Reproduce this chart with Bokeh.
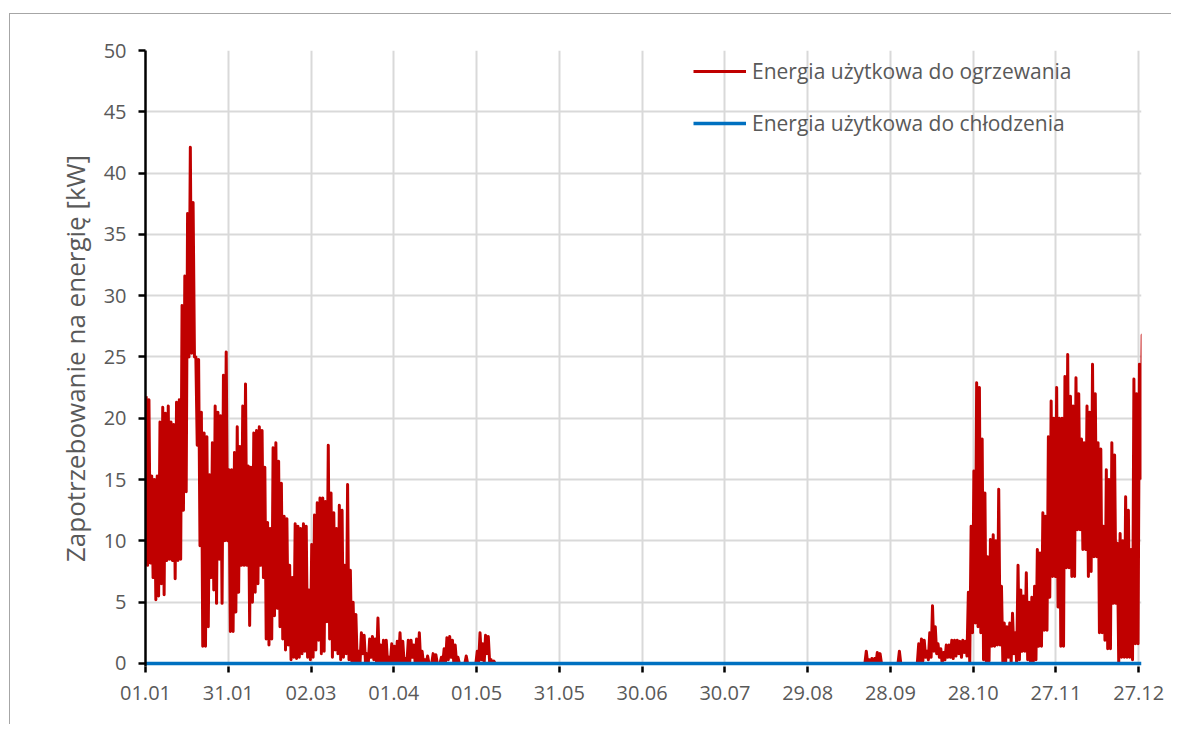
from bokeh.plotting import figure
from bokeh.models import Range1d, FixedTicker, Legend, LegendItem, ColumnDataSource
from bokeh.embed import file_html
from bokeh.resources import INLINE

# ---- data -----------------------------------------------------------------
tick_days = [0, 30, 60, 90, 120, 150, 180, 210, 240, 270, 300, 330, 360]
tick_labels = ["01.01", "31.01", "02.03", "01.04", "01.05", "31.05", "30.06",
               "30.07", "29.08", "28.09", "28.10", "27.11", "27.12"]

# heating demand, daily max / min [kW], spring season (days 0..127)
spring_first_day = 0
spring_max = [21.8, 21.5, 15.3, 15.0, 15.3, 19.7, 20.9, 20.4, 21.0, 19.7,
              19.5, 21.3, 21.5, 29.2, 31.6, 36.7, 42.1, 37.6, 25.0, 24.8,
              20.5, 18.8, 18.5, 15.4, 18.0, 21.0, 20.5, 20.2, 23.5, 25.4,
              15.8, 15.8, 17.2, 19.3, 17.7, 21.0, 22.8, 16.1, 16.0, 18.8,
              19.0, 19.3, 19.0, 16.0, 11.5, 11.0, 17.6, 18.0, 16.5, 14.7,
              12.0, 11.8, 8.0, 7.0, 11.4, 11.2, 11.0, 11.4, 11.2, 6.0,
              9.7, 12.1, 13.1, 13.5, 13.5, 13.2, 17.8, 13.9, 12.3, 11.0,
              12.9, 12.5, 8.0, 14.6, 7.6, 5.0, 4.0, 1.0, 2.5, 2.3,
              0.8, 2.0, 2.2, 2.0, 3.7, 1.5, 1.9, 1.9, 0.5, 1.6,
              1.4, 1.8, 2.5, 1.8, 0.4, 1.9, 1.9, 1.5, 2.0, 2.5,
              1.0, 0.3, 0.6, 0.0, 0.8, 0.7, 0.0, 0.5, 1.2, 2.1,
              2.2, 1.9, 1.5, 0.5, 0.0, 0.0, 0.6, 0.0, 0.0, 0.0,
              1.0, 2.5, 1.6, 2.3, 2.2, 0.3, 0.2, 0.0]
spring_min = [8.0, 8.2, 7.0, 5.2, 5.5, 6.5, 5.6, 8.4, 8.5, 8.4,
              6.9, 8.4, 8.5, 12.5, 14.0, 25.0, 25.3, 25.0, 17.8, 9.6,
              1.4, 1.4, 3.0, 7.0, 6.0, 4.9, 8.5, 4.9, 10.0, 10.0,
              2.6, 2.6, 4.2, 5.8, 8.0, 8.0, 8.0, 3.1, 5.0, 5.8,
              6.5, 8.0, 7.0, 2.0, 1.5, 2.0, 3.9, 4.5, 3.0, 2.0,
              1.1, 1.5, 0.3, 0.5, 0.4, 0.5, 0.8, 1.0, 0.5, 0.3,
              0.5, 1.1, 1.9, 0.8, 1.0, 3.4, 2.0, 0.5, 1.1, 0.8,
              0.3, 0.5, 0.8, 0.3, 0.2, 0.1, 0.0, 0.0, 0.8, 0.0,
              0.0, 0.5, 0.3, 0.0, 0.0, 0.0, 0.0, 0.0, 0.0, 0.0,
              0.0, 0.2, 0.0, 0.0, 0.0, 0.0, 0.5, 0.0, 0.0, 0.0,
              0.0, 0.0, 0.0, 0.0, 0.0, 0.0, 0.0, 0.0, 0.0, 0.3,
              0.5, 0.0, 0.0, 0.0, 0.0, 0.0, 0.0, 0.0, 0.0, 0.0,
              0.0, 0.3, 0.0, 0.8, 0.0, 0.0, 0.0, 0.0]

# heating demand, daily max / min [kW], autumn season (days 260..361)
autumn_first_day = 260
autumn_max = [0.0, 1.0, 0.3, 0.4, 0.4, 0.9, 0.8, 0.0, 0.0, 0.0,
              0.0, 0.0, 0.0, 1.0, 0.0, 0.0, 0.0, 0.0, 0.0, 0.0,
              1.6, 2.0, 1.9, 1.0, 2.5, 4.7, 3.0, 1.6, 1.2, 0.9,
              1.5, 1.5, 1.9, 1.9, 1.9, 1.8, 1.9, 1.8, 5.8, 11.2,
              15.7, 22.9, 22.5, 18.3, 13.9, 8.7, 10.1, 10.5, 10.0, 14.2,
              6.3, 3.3, 3.0, 3.3, 4.1, 2.5, 8.0, 6.0, 5.5, 7.4,
              5.0, 5.4, 6.3, 9.3, 9.0, 12.3, 12.0, 18.5, 21.4, 20.0,
              22.5, 20.0, 20.0, 23.4, 25.2, 21.8, 21.0, 23.3, 22.0, 18.3,
              18.0, 21.0, 20.5, 24.4, 22.0, 18.0, 17.5, 11.2, 15.8, 15.0,
              18.0, 17.0, 9.8, 10.6, 10.0, 13.6, 12.5, 9.3, 23.2, 22.0,
              24.4, 26.8]
autumn_min = [0.0, 0.0, 0.0, 0.0, 0.0, 0.0, 0.0, 0.0, 0.0, 0.0,
              0.0, 0.0, 0.0, 0.0, 0.0, 0.0, 0.0, 0.0, 0.0, 0.0,
              0.0, 0.2, 0.5, 0.3, 0.5, 1.0, 0.8, 0.5, 0.0, 0.3,
              0.5, 0.5, 0.4, 0.6, 0.8, 0.5, 0.9, 0.6, 0.0, 2.5,
              3.3, 3.0, 2.5, 0.3, 0.0, 0.2, 1.4, 1.4, 1.5, 1.5,
              0.0, 0.0, 0.5, 0.0, 0.8, 0.0, 0.3, 1.0, 1.0, 0.3,
              0.0, 0.0, 0.3, 1.4, 1.4, 2.7, 2.7, 5.4, 7.1, 7.1,
              4.6, 1.4, 1.4, 7.8, 7.8, 7.1, 7.1, 10.9, 10.9, 9.3,
              9.3, 7.1, 7.5, 8.7, 8.7, 2.5, 2.5, 1.9, 1.2, 1.2,
              4.9, 4.9, 0.0, 0.5, 0.5, 0.5, 0.5, 0.3, 1.6, 1.6,
              15.1, 15.1]

# cooling demand [kW]
cooling_day = [0, 361]
cooling_kw = [0.0, 0.0]

# ---- build heating series (max in the first half of each day, min in the second)
heat_x, heat_y = [], []
for first, mx, mn in ((spring_first_day, spring_max, spring_min),
                      (autumn_first_day, autumn_max, autumn_min)):
    for i, (a, b) in enumerate(zip(mx, mn)):
        heat_x += [first + i + 0.25, first + i + 0.75]
        heat_y += [a, b]

heat_src = ColumnDataSource(dict(x=heat_x, y=heat_y))
cool_src = ColumnDataSource(dict(x=cooling_day, y=cooling_kw))

FONT = "Open Sans"
TXT = "#595959"

p = figure(width=1162, height=711, output_backend="svg", toolbar_location=None,
           x_range=Range1d(0, 361), y_range=Range1d(-0.25, 50),
           min_border_left=135, min_border_right=31, min_border_top=36,
           min_border_bottom=59, margin=(13, 0, 0, 9),
           styles={"border-top": "1px solid #a6a6a6", "border-left": "1px solid #a6a6a6"})
p.outline_line_color = None
p.background_fill_color = "white"
p.border_fill_color = "white"

r_heat = p.line("x", "y", source=heat_src, line_color="#C00000", line_width=3,
                line_join="round")
r_cool = p.line("x", "y", source=cool_src, line_color="#0070C0", line_width=3.5)

# axes
p.xaxis.ticker = FixedTicker(ticks=tick_days)
p.xaxis.major_label_overrides = {d: l for d, l in zip(tick_days, tick_labels)}
p.yaxis.ticker = FixedTicker(ticks=list(range(0, 51, 5)))

for ax in (p.xaxis[0], p.yaxis[0]):
    ax.major_label_text_font = FONT
    ax.major_label_text_font_size = "20px"
    ax.major_label_text_color = TXT
    ax.major_tick_line_color = "black"
    ax.major_tick_line_width = 2.5
    ax.minor_tick_line_color = None
    ax.major_tick_in = 0

p.xaxis.axis_line_color = None
p.xaxis.major_tick_out = 6
p.xaxis.major_label_standoff = 13

p.yaxis.axis_line_color = "black"
p.yaxis.axis_line_width = 2.5
p.yaxis.major_tick_out = 7
p.yaxis.major_label_standoff = 12
p.yaxis.axis_label = "Zapotrzebowanie na energię [kW]"
p.yaxis.axis_label_text_font = FONT
p.yaxis.axis_label_text_font_size = "26px"
p.yaxis.axis_label_text_font_style = "normal"
p.yaxis.axis_label_text_color = TXT
p.yaxis.axis_label_standoff = 8

p.xgrid.ticker = FixedTicker(ticks=tick_days)
p.ygrid.ticker = FixedTicker(ticks=list(range(5, 51, 5)))
for g in (p.xgrid[0], p.ygrid[0]):
    g.grid_line_color = "#D9D9D9"
    g.grid_line_width = 2

legend = Legend(items=[
    LegendItem(label="Energia użytkowa do ogrzewania", renderers=[r_heat]),
    LegendItem(label="Energia użytkowa do chłodzenia", renderers=[r_cool]),
], location=(548, 529))
legend.border_line_color = None
legend.background_fill_alpha = 0
legend.padding = 0
legend.margin = 0
legend.spacing = 24
legend.glyph_width = 53
legend.glyph_height = 28
legend.label_height = 28
legend.label_standoff = 6
legend.label_text_font = FONT
legend.label_text_font_size = "21px"
legend.label_text_color = TXT
p.add_layout(legend)

open("out.html", "w").write(file_html(p, INLINE))
